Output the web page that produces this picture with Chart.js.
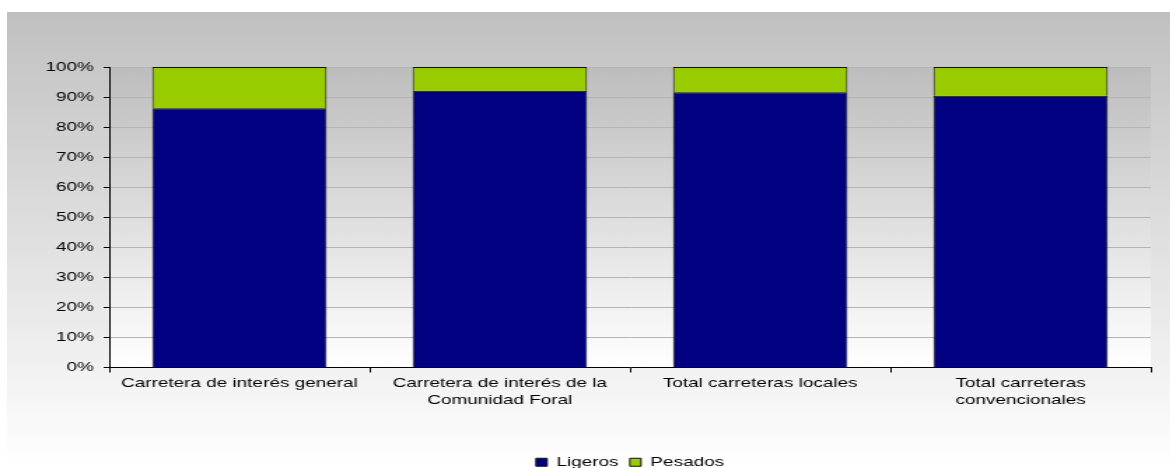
<!DOCTYPE html>
<html>
<head>
<meta charset="utf-8">
<script src="https://cdn.jsdelivr.net/npm/chart.js@4/dist/chart.umd.min.js"></script>
<style>
    body { margin: 0; background: #fff; width: 1170px; height: 468px; overflow: hidden; }
    #bg {
        position: absolute; left: 7px; top: 12px; width: 1163px; height: 456px;
        background: linear-gradient(to bottom, #c0c0c0 0%, #ffffff 100%);
    }
    #box {
        position: absolute; left: 7px; top: 12px; width: 831px; height: 467px;
        transform: scaleX(1.4); transform-origin: 0 0;
    }
</style>
</head>
<body>
<div id="bg"></div>
<div id="box"><canvas id="graph"></canvas></div>
<script>
// data
const categories = [
    'Carretera de interés general',
    ['Carretera de interés de la', 'Comunidad Foral'],
    'Total carreteras locales',
    ['Total carreteras', 'convencionales']
]
const ligeros = [86.3, 92.1, 91.6, 90.4]
const pesados = [13.7, 7.9, 8.4, 9.6]
const yTicks = [0, 10, 20, 30, 40, 50, 60, 70, 80, 90, 100]

Chart.defaults.font.family = "'Liberation Sans', Arial, sans-serif"
Chart.defaults.font.size = 13.5
Chart.defaults.color = '#000'

// plot area has its own soft gradient
const plotBg = {
    id: 'plotBg',
    beforeDraw: (chart) => {
        const { ctx, chartArea: a } = chart
        const g = ctx.createLinearGradient(0, a.top, 0, a.bottom)
        g.addColorStop(0, '#bdbdbd')
        g.addColorStop(1, '#ffffff')
        ctx.save()
        ctx.fillStyle = g
        ctx.fillRect(a.left, a.top, a.right - a.left, a.bottom - a.top)
        ctx.restore()
    }
}

new Chart(document.getElementById('graph'), {
    type: 'bar',
    data: {
        labels: categories,
        datasets: [
            {
                label: 'Ligeros',
                data: ligeros,
                backgroundColor: '#000080',
                borderColor: '#111',
                borderWidth: 1,
                barPercentage: 0.67,
                categoryPercentage: 1
            }, {
                label: 'Pesados',
                data: pesados,
                backgroundColor: '#99cc00',
                borderColor: '#111',
                borderWidth: 1,
                barPercentage: 0.67,
                categoryPercentage: 1
            }
        ]
    },
    options: {
        responsive: true,
        maintainAspectRatio: false,
        animation: false,
        layout: { padding: { top: 55, right: 14, left: 0, bottom: 0 } },
        plugins: {
            tooltip: { enabled: false },
            legend: {
                position: 'bottom',
                fullSize: false,
                labels: {
                    boxWidth: 8,
                    boxHeight: 8,
                    padding: 8
                }
            }
        },
        scales: {
            x: {
                stacked: true,
                afterFit: (s) => { s.height = 80 },
                grid: {
                    drawOnChartArea: false,
                    tickColor: '#000',
                    tickLength: 5
                },
                border: { color: '#000' },
                ticks: { padding: 3, maxRotation: 0, autoSkip: false }
            },
            y: {
                stacked: true,
                min: 0,
                max: 100,
                afterFit: (s) => { s.width = 73 },
                afterBuildTicks: (s) => { s.ticks = yTicks.map(v => ({ value: v })) },
                grid: {
                    color: '#b4b4b4',
                    tickColor: '#000',
                    tickLength: 4
                },
                border: { color: '#000' },
                ticks: {
                    padding: 7,
                    callback: (val) => val + '%'
                }
            }
        }
    },
    plugins: [plotBg]
})
</script>
</body>
</html>
